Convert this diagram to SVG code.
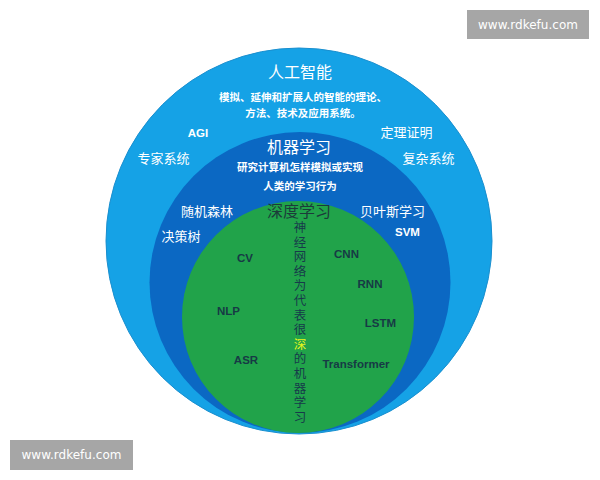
<svg xmlns="http://www.w3.org/2000/svg" width="600" height="480" viewBox="0 0 600 480">
<style>
.cjk{font-family:"Noto Sans CJK SC","Noto Sans",sans-serif;fill:#ffffff;text-anchor:middle}
.b{font-weight:bold}
.lat{font-family:"Liberation Sans","Noto Sans",sans-serif;font-weight:bold;font-size:11.5px;text-anchor:middle}
.w{fill:#ffffff}
.dk{fill:#173a45}
.wm{font-family:"DejaVu Sans","Noto Sans",sans-serif;font-size:12px;fill:#ffffff;text-anchor:middle}
</style>
<rect width="600" height="480" fill="#ffffff"/>
<g id="ai">
<circle cx="299" cy="241" r="193" fill="#15a2e6" stroke="#1a8fcf" stroke-width="1"/>
<text class="cjk" x="300" y="78" font-size="16">人工智能</text>
<text class="cjk b" x="303" y="101" font-size="10.5">模拟、延伸和扩展人的智能的理论、</text>
<text class="cjk b" x="303" y="117" font-size="10.5">方法、技术及应用系统。</text>
<text class="lat w" x="198" y="137" font-size="11">AGI</text>
<text class="cjk" x="406.5" y="137" font-size="13">定理证明</text>
<text class="cjk" x="163.5" y="163" font-size="13">专家系统</text>
<text class="cjk" x="428.5" y="163" font-size="13">复杂系统</text>
</g>
<g id="ml">
<circle cx="300" cy="282.5" r="150.5" fill="#0b68c3"/>
<text class="cjk" x="299" y="153" font-size="16">机器学习</text>
<text class="cjk b" x="300" y="171" font-size="10.5">研究计算机怎样模拟或实现</text>
<text class="cjk b" x="300" y="190" font-size="10.5">人类的学习行为</text>
<text class="cjk" x="207" y="216" font-size="13">随机森林</text>
<text class="cjk" x="392.5" y="216" font-size="13">贝叶斯学习</text>
<text class="cjk" x="181" y="241" font-size="13">决策树</text>
<text class="lat w" x="407.5" y="236">SVM</text>
</g>
<g id="dl">
<circle cx="298" cy="317" r="116" fill="#21a34a"/>
<text class="cjk" x="299" y="217" font-size="16" style="fill:#1c3b3a">深度学习</text>
<text x="300" y="221" writing-mode="vertical-rl" font-size="12.5" letter-spacing="2.1" style="font-family:'Noto Sans CJK SC','Noto Sans',sans-serif;fill:#173a4a">神经网络为代表很<tspan style="fill:#e6f51c">深</tspan>的机器学习</text>
<text class="lat dk" x="245" y="262">CV</text>
<text class="lat dk" x="346.5" y="258">CNN</text>
<text class="lat dk" x="370" y="288">RNN</text>
<text class="lat dk" x="228.5" y="315">NLP</text>
<text class="lat dk" x="380.5" y="327">LSTM</text>
<text class="lat dk" x="246" y="364">ASR</text>
<text class="lat dk" x="356" y="368">Transformer</text>
</g>
<g id="watermark-top">
<rect x="467" y="10" width="122" height="29" fill="#a6a6a6"/>
<text class="wm" x="528" y="29" textLength="100">www.rdkefu.com</text>
</g>
<g id="watermark-bottom">
<rect x="10" y="440" width="123" height="30" fill="#a6a6a6"/>
<text class="wm" x="71.5" y="459" textLength="100">www.rdkefu.com</text>
</g>
</svg>
